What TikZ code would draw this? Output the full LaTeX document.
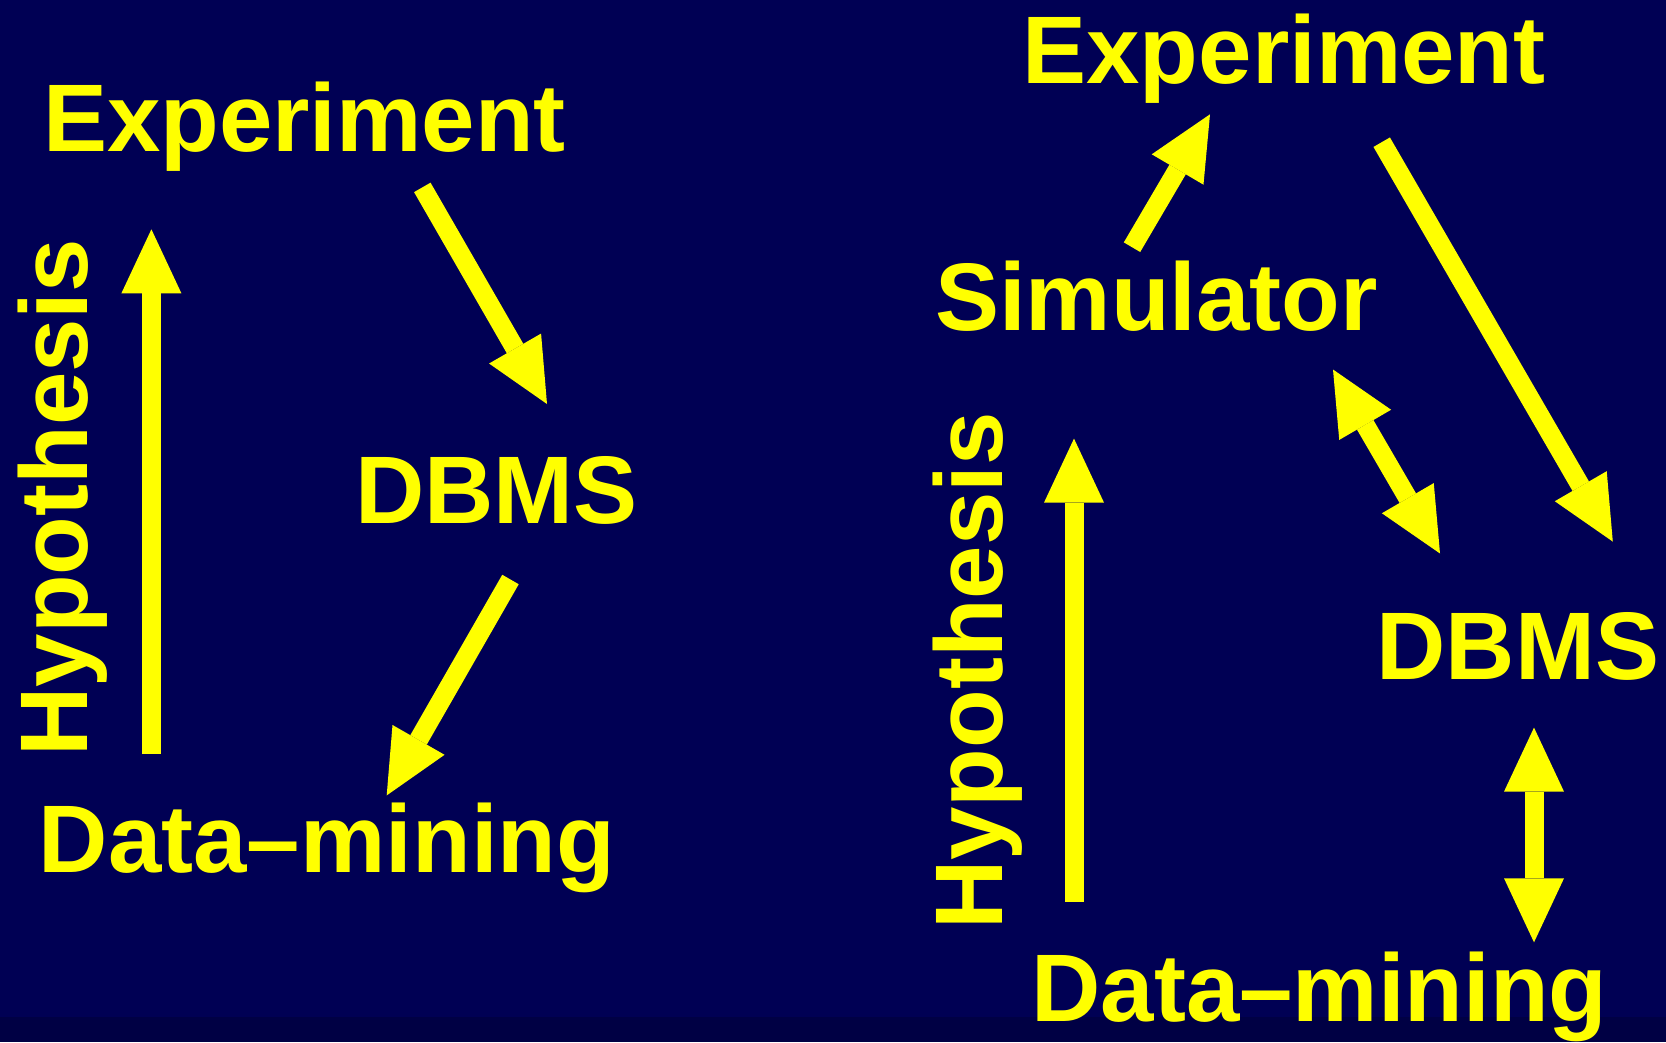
\documentclass[tikz,border=0pt]{standalone}
\usepackage{fontspec}
\setmainfont{Liberation Sans}
\usetikzlibrary{arrows.meta}
\definecolor{nenxanh}{RGB}{0,0,84}
\definecolor{dayxanh}{RGB}{0,0,68}
\definecolor{vang}{RGB}{255,255,0}
\begin{document}
\begin{tikzpicture}[x=1pt,y=-1pt,line join=miter]
	\tikzset{Chu-Vang/.style={text=vang,inner sep=0pt,anchor=base,font=\bfseries\fontsize{96pt}{110pt}\selectfont},
		Mui/.tip={Triangle[width=60pt,length=64pt,line width=0pt]},
		Mui-Ten/.style={draw=vang,line width=19pt,-Mui},
		Hai-Mui/.style={Mui-Ten,Mui-Mui}}
	%Nền
	\fill[nenxanh] (0,0) rectangle (1666,1042);
	\fill[dayxanh] (0,1017) rectangle (1666,1042);
	\useasboundingbox (0,0) rectangle (1666,1042);
	%Bên trái
	\node[Chu-Vang] (TN1) at (304.5,151.5) {Experiment};
	\node[Chu-Vang] (CSDL1) at (496.5,523) {DBMS};
	\node[Chu-Vang] (KP1) at (327,872.5) {Data–mining};
	\node[Chu-Vang,rotate=90] (GT1) at (87.7,497.8) {Hypothesis};
	\coordinate (TN1-ra) at (422.3,187.4);
	\coordinate (CSDL1-vao) at (547,404);
	\coordinate (CSDL1-ra) at (510.5,579.5);
	\coordinate (KP1-vao) at (386.7,795.4);
	\coordinate (GT1-duoi) at (151.4,754.2);
	\coordinate (GT1-tren) at (151.4,229.3);
	\draw[Mui-Ten] (TN1-ra)--(CSDL1-vao);
	\draw[Mui-Ten] (CSDL1-ra)--(KP1-vao);
	\draw[Mui-Ten] (GT1-duoi)--(GT1-tren);
	%Bên phải
	\node[Chu-Vang] (TN2) at (1284,83) {Experiment};
	\node[Chu-Vang] (MP2) at (1156.5,330.3) {Simulator};
	\node[Chu-Vang] (CSDL2) at (1518,679) {DBMS};
	\node[Chu-Vang] (KP2) at (1319.5,1021.5) {Data–mining};
	\node[Chu-Vang,rotate=90] (GT2) at (1002,671) {Hypothesis};
	\coordinate (MP2-ra) at (1132,247.2);
	\coordinate (TN2-vao) at (1210,114.3);
	\coordinate (TN2-ra) at (1381.7,142.2);
	\coordinate (CSDL2-vao) at (1612.8,541.6);
	\coordinate (MP2-duoi) at (1333,369.5);
	\coordinate (CSDL2-tren) at (1440,553.5);
	\coordinate (CSDL2-duoi) at (1534,727.6);
	\coordinate (KP2-tren) at (1534,942.3);
	\coordinate (GT2-duoi) at (1074,901.7);
	\coordinate (GT2-tren) at (1074,438.6);
	\draw[Mui-Ten] (MP2-ra)--(TN2-vao);
	\draw[Mui-Ten] (TN2-ra)--(CSDL2-vao);
	\draw[Hai-Mui] (MP2-duoi)--(CSDL2-tren);
	\draw[Hai-Mui] (CSDL2-duoi)--(KP2-tren);
	\draw[Mui-Ten] (GT2-duoi)--(GT2-tren);
\end{tikzpicture}
\end{document}
